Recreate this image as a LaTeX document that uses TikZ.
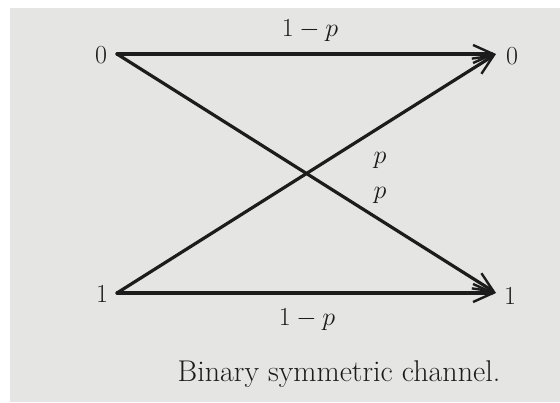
\RequirePackage{fix-cm}
\documentclass[tikz,border=0pt]{standalone}
\usepackage{xcolor}
\usepackage{tikz}
\usetikzlibrary{arrows.meta}
\definecolor{paper}{HTML}{E5E5E3}
\definecolor{ink}{HTML}{1C1C1C}

\begin{document}
\begin{tikzpicture}[x=1pt,y=-1pt,>={Straight Barb[length=20pt,width=18pt,line width=2.4pt]},
  lbl/.style={text=ink,font=\fontsize{26}{30}\selectfont,inner sep=0pt},
  link/.style={->,draw=ink,line width=3.2pt,line cap=round,line join=round}]
  \useasboundingbox (0,0) rectangle (560,402);
  \fill[paper] (10,8) rectangle (560,402);
  % channel inputs and outputs
  \coordinate (x0) at (117,54);
  \coordinate (x1) at (117,293);
  \coordinate (y0) at (496,54);
  \coordinate (y1) at (496,293);
  \node[lbl] (lx0) at (101,55) {0};
  \node[lbl] (lx1) at (102,294) {1};
  \node[lbl] (ly0) at (512,56) {0};
  \node[lbl] (ly1) at (510,296) {1};
  % transitions
  \draw[link] (x0) -- (y0);
  \draw[link] (x1) -- (y1);
  \draw[link] (x0) -- (y1);
  \draw[link] (x1) -- (y0);
  \node[lbl] (p00) at (310,31) {$1-p$};
  \node[lbl] (p11) at (307,320) {$1-p$};
  \node[lbl] (p10) at (380,160) {$p$};
  \node[lbl] (p01) at (380,195) {$p$};
  \node[lbl,anchor=base,font=\fontsize{30}{34}\selectfont] (cap) at (339,381) {Binary symmetric channel.};
\end{tikzpicture}
\end{document}
